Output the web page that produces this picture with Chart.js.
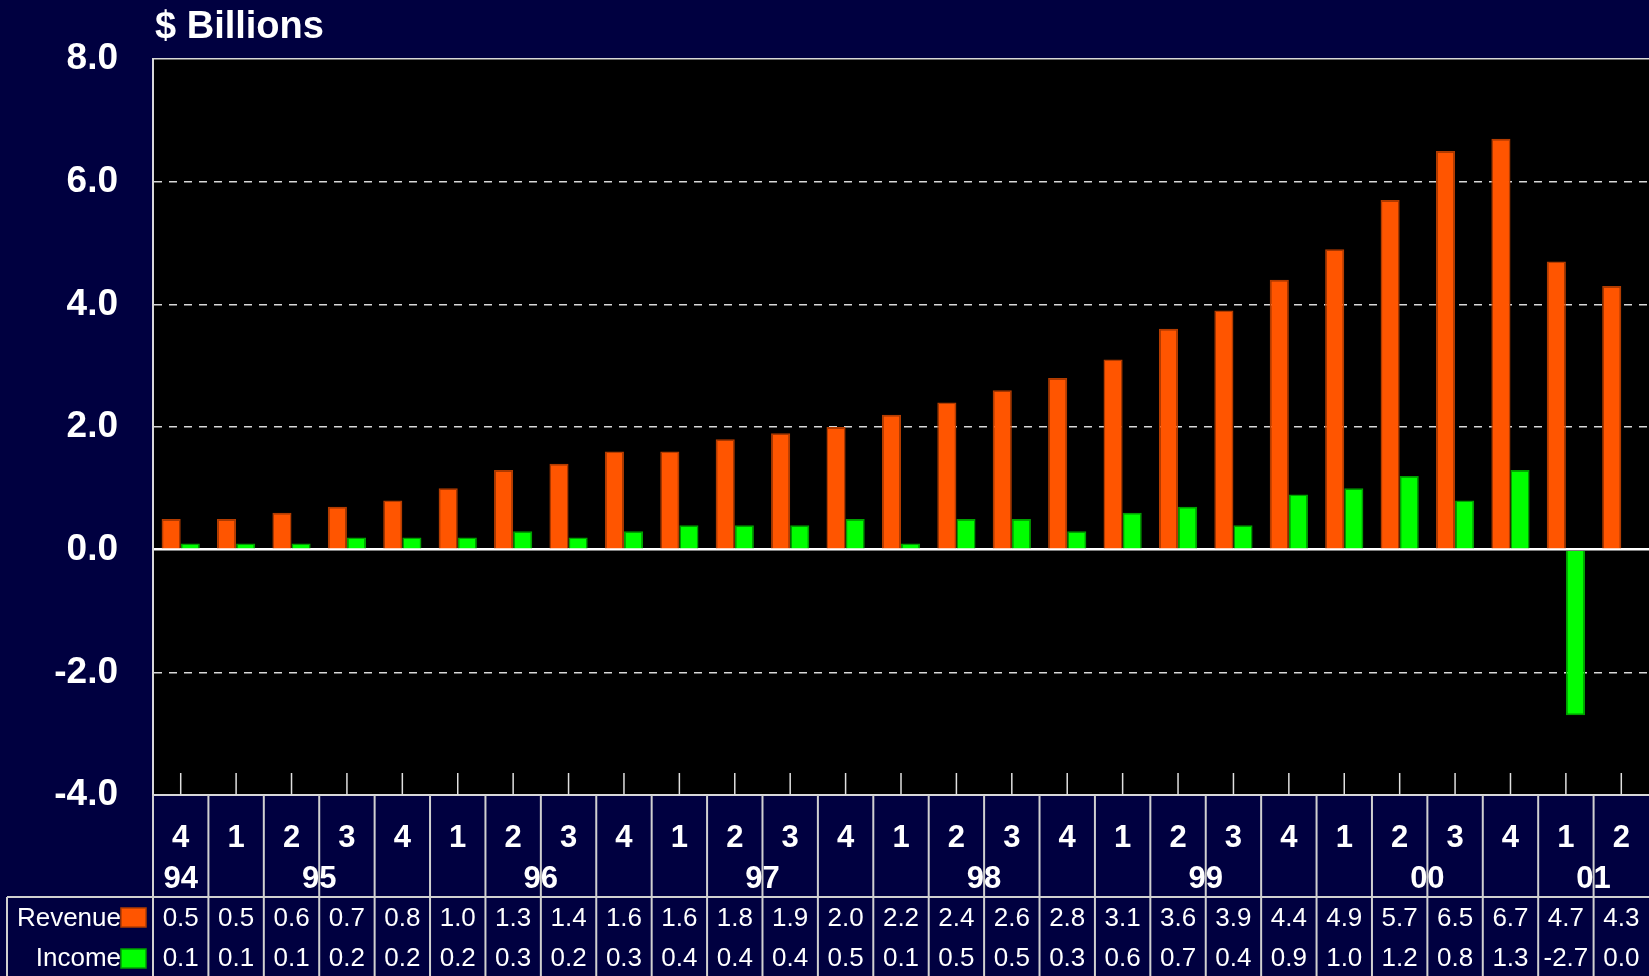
<!DOCTYPE html>
<html>
<head>
<meta charset="utf-8">
<script src="https://cdn.jsdelivr.net/npm/chart.js@4.4.1/dist/chart.umd.min.js"></script>
<style>
  html, body { margin: 0; padding: 0; background: #000040; }
  canvas { display: block; }
</style>
</head>
<body>
<canvas id="myChart" width="1649" height="976"></canvas>
<script>
// quarterly figures, 4Q94 .. 2Q01
const quarters = ["4","1","2","3","4","1","2","3","4","1","2","3","4","1","2","3","4","1","2","3","4","1","2","3","4","1","2"];
const years = ["94","95","96","97","98","99","00","01"];
const yearFirst = [0, 1, 5, 9, 13, 17, 21, 25];
const yearLast = [0, 4, 8, 12, 16, 20, 24, 26];
const revenue = [0.5,0.5,0.6,0.7,0.8,1.0,1.3,1.4,1.6,1.6,1.8,1.9,2.0,2.2,2.4,2.6,2.8,3.1,3.6,3.9,4.4,4.9,5.7,6.5,6.7,4.7,4.3];
const income = [0.1,0.1,0.1,0.2,0.2,0.2,0.3,0.2,0.3,0.4,0.4,0.4,0.5,0.1,0.5,0.5,0.3,0.6,0.7,0.4,0.9,1.0,1.2,0.8,1.3,-2.7,0.0];
const yTicks = [-4, -2, 0, 2, 4, 6, 8];

const FONT = 'Arial, "Liberation Sans", sans-serif';
const NAVY = '#000040';
const ORANGE = '#ff5500';
const GREEN = '#00ff00';

const backdrop = {
    id: 'backdrop',
    beforeDraw(chart) {
        const { ctx, chartArea: a } = chart;
        ctx.save();
        ctx.fillStyle = NAVY;
        ctx.fillRect(0, 0, chart.width, chart.height);
        ctx.fillStyle = '#000000';
        ctx.fillRect(a.left, a.top, a.right - a.left, a.bottom - a.top);
        ctx.restore();
    }
};

// short tick marks, year row, data table and the "$ Billions" heading
const quarterTable = {
    id: 'quarterTable',
    afterDraw(chart) {
        const { ctx, chartArea: a } = chart;
        const xs = chart.scales.x;
        const centers = quarters.map((q, i) => xs.getPixelForTick(i));
        const half = (centers[1] - centers[0]) / 2;
        const rowSplit = 897;
        const bottom = chart.height;
        ctx.save();

        ctx.strokeStyle = '#e0e0e0';
        ctx.lineWidth = 1.5;
        centers.forEach(cx => {
            ctx.beginPath();
            ctx.moveTo(cx, a.bottom - 22);
            ctx.lineTo(cx, a.bottom);
            ctx.stroke();
        });

        ctx.strokeStyle = '#d0d0d0';
        ctx.lineWidth = 2;
        centers.forEach(cx => {
            ctx.beginPath();
            ctx.moveTo(cx - half, a.bottom);
            ctx.lineTo(cx - half, bottom);
            ctx.stroke();
        });
        ctx.beginPath();
        ctx.moveTo(7, rowSplit);
        ctx.lineTo(chart.width, rowSplit);
        ctx.moveTo(7, rowSplit);
        ctx.lineTo(7, bottom);
        ctx.stroke();

        ctx.fillStyle = '#ffffff';
        ctx.textAlign = 'center';
        ctx.textBaseline = 'middle';
        ctx.font = 'bold 31px ' + FONT;
        years.forEach((y, k) => {
            const cx = (centers[yearFirst[k]] + centers[yearLast[k]]) / 2;
            ctx.fillText(y, cx, 879);
        });

        ctx.font = '26px ' + FONT;
        revenue.forEach((v, i) => ctx.fillText(v.toFixed(1), centers[i], 919));
        income.forEach((v, i) => ctx.fillText(v.toFixed(1), centers[i], 959));

        ctx.textAlign = 'right';
        ctx.fillText('Revenue', 121, 919);
        ctx.fillText('Income', 121, 959);
        ctx.lineWidth = 1.5;
        ctx.fillStyle = ORANGE;
        ctx.fillRect(121, 908, 25, 19);
        ctx.strokeStyle = '#b33c00';
        ctx.strokeRect(121, 908, 25, 19);
        ctx.fillStyle = GREEN;
        ctx.fillRect(121, 949, 25, 19);
        ctx.strokeStyle = '#00a000';
        ctx.strokeRect(121, 949, 25, 19);

        ctx.fillStyle = '#ffffff';
        ctx.textAlign = 'left';
        ctx.textBaseline = 'alphabetic';
        ctx.font = 'bold 38px ' + FONT;
        ctx.fillText('$ Billions', 155, 38);
        ctx.restore();
    }
};

const solidAt = [-4, 0, 8];

new Chart(document.getElementById('myChart'), {
    type: 'bar',
    data: {
        labels: quarters,
        datasets: [
            { label: 'Revenue', data: revenue, backgroundColor: ORANGE, borderColor: '#b33c00', borderWidth: 1.5 },
            { label: 'Income', data: income, backgroundColor: GREEN, borderColor: '#00a000', borderWidth: 1.5 }
        ]
    },
    options: {
        responsive: false,
        animation: false,
        devicePixelRatio: 1,
        categoryPercentage: 0.69,
        barPercentage: 1.0,
        layout: { padding: { top: 59, right: 0, bottom: 0, left: 0 } },
        plugins: { legend: { display: false }, tooltip: { enabled: false } },
        scales: {
            x: {
                grid: { display: false, drawTicks: false },
                border: { display: true, color: '#d8d8d8', width: 2 },
                ticks: {
                    color: '#ffffff',
                    font: { family: FONT, size: 31, weight: 'bold' },
                    padding: 25,
                    autoSkip: false,
                    maxRotation: 0
                },
                afterFit: scale => {
                    scale.height = 181;
                    // let the plot run right up to the canvas edge
                    scale.paddingLeft = 0;
                    scale.paddingRight = 0;
                }
            },
            y: {
                min: -4,
                max: 8,
                afterBuildTicks: scale => { scale.ticks = yTicks.map(v => ({ value: v })); },
                grid: {
                    drawTicks: false,
                    color: c => c.tick && c.tick.value === 0 ? '#ffffff' : '#d8d8d8',
                    lineWidth: c => c.tick && c.tick.value === 0 ? 2.5 : 1.5
                },
                border: {
                    display: true,
                    color: '#d8d8d8',
                    width: 2,
                    dash: c => (c.tick && !solidAt.includes(c.tick.value)) ? [8, 7] : []
                },
                ticks: {
                    color: '#ffffff',
                    font: { family: FONT, size: 37, weight: 'bold' },
                    padding: 35,
                    callback: v => v.toFixed(1)
                },
                afterFit: scale => { scale.width = 153; }
            }
        }
    },
    plugins: [backdrop, quarterTable]
});
</script>
</body>
</html>
